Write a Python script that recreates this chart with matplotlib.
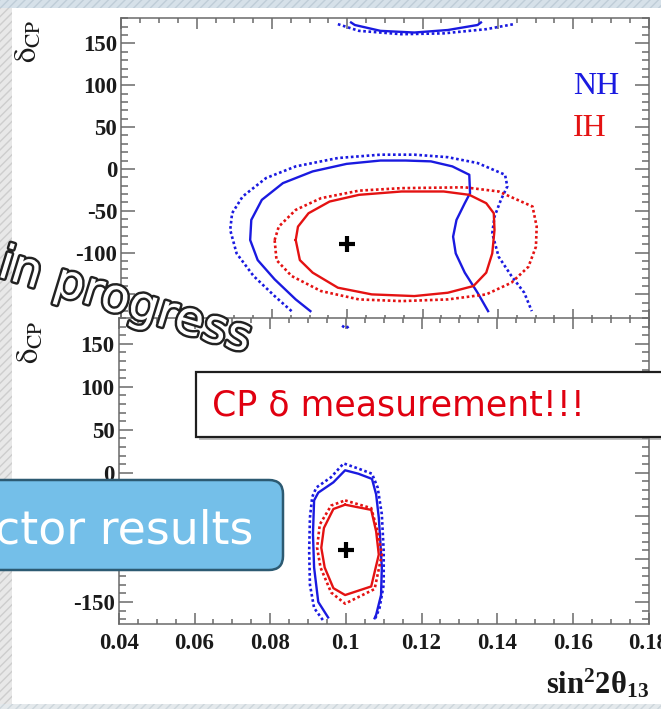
"""
Two stacked delta_CP vs sin^2(2 theta_13) contour panels (NH / IH),
with the slide overlays drawn on top.
"""

import matplotlib
matplotlib.use("Agg")
import matplotlib.pyplot as plt
import matplotlib.patheffects as pe
from matplotlib.patches import Rectangle, FancyBboxPatch
from matplotlib.ticker import MultipleLocator, FuncFormatter

# ── Config ────────────────────────────────────────────────────
W, H      = 661, 709
BLUE      = "#1a1ae0"
RED       = "#e41212"
FRAME     = "#6a6a6a"
TICK_SIZE = 16.5

plt.rcParams["axes.unicode_minus"] = False
plt.rcParams["mathtext.fontset"]   = "custom"
plt.rcParams["mathtext.rm"]        = "Liberation Serif:bold"
plt.rcParams["mathtext.it"]        = "Liberation Serif:bold"
plt.rcParams["mathtext.bf"]        = "Liberation Serif:bold"

# ── Data : top panel ──────────────────────────────────────────
top_nh_solid_x = [0.0902, 0.0863, 0.0807, 0.0762, 0.0742, 0.0745, 0.0773, 0.0829,
                  0.0908, 0.0998, 0.1088, 0.1155, 0.1222, 0.1279, 0.1324, 0.1326,
                  0.1312, 0.1290, 0.1281, 0.1288, 0.1312, 0.1346, 0.1374]
top_nh_solid_y = [-170, -156, -132, -109, -85, -61, -37, -17,
                  -3, 6, 10, 10, 9, 3, -7, -29,
                  -41, -61, -81, -101, -124, -148, -170]

top_nh_dot_x = [0.0852, 0.0807, 0.0751, 0.0706, 0.0689, 0.0694, 0.0722, 0.0784,
                0.0863, 0.0975, 0.1088, 0.1178, 0.1267, 0.1346, 0.1419, 0.1425,
                0.1408, 0.1391, 0.1385, 0.1402, 0.1436, 0.1470, 0.1490]
top_nh_dot_y = [-170, -152, -128, -101, -73, -53, -33, -11,
                3, 13, 17, 17, 14, 7, -7, -21,
                -37, -57, -77, -105, -128, -148, -170]

top_nh_arc_solid_x = [0.1010, 0.1020, 0.1088, 0.1178, 0.1267, 0.1346, 0.1355]
top_nh_arc_solid_y = [175, 172, 165, 163, 166, 172, 175]
top_nh_arc_dot_x   = [0.0975, 0.1031, 0.1144, 0.1256, 0.1369, 0.1442]
top_nh_arc_dot_y   = [173, 165, 161, 162, 167, 173]

top_ih_solid_x = [0.0863, 0.0869, 0.0897, 0.0953, 0.1031, 0.1144, 0.1256, 0.1324,
                  0.1369, 0.1389, 0.1391, 0.1385, 0.1369, 0.1335, 0.1267, 0.1178,
                  0.1065, 0.0975, 0.0908, 0.0874, 0.0863]
top_ih_solid_y = [-85, -69, -53, -39, -31, -27, -27, -31,
                  -41, -53, -73, -101, -124, -140, -148, -152,
                  -150, -142, -124, -109, -85]

top_ih_dot_x = [0.0807, 0.0818, 0.0863, 0.0930, 0.1031, 0.1144, 0.1312, 0.1402,
                0.1492, 0.1503, 0.1501, 0.1481, 0.1436, 0.1369, 0.1267, 0.1144,
                0.1031, 0.0930, 0.0852, 0.0812, 0.0807]
top_ih_dot_y = [-85, -69, -49, -35, -26, -23, -22, -27,
                -45, -69, -93, -117, -136, -150, -156, -158,
                -156, -146, -128, -109, -85]

# ── Data : bottom panel ───────────────────────────────────────
bot_nh_solid_x = [0.0953, 0.0927, 0.0916, 0.0913, 0.0916, 0.0927, 0.0967, 0.0998,
                  0.1033, 0.1069, 0.1080, 0.1087, 0.1091, 0.1095, 0.1093, 0.1080, 0.1076]
bot_nh_solid_y = [-168, -150, -110, -71, -32, -23, -11, 3,
                  -1, -7, -25, -52, -79, -110, -142, -165, -169]

bot_nh_dot_x = [0.0939, 0.0916, 0.0905, 0.0903, 0.0905, 0.0911, 0.0922, 0.0961,
                0.0994, 0.1033, 0.1069, 0.1084, 0.1095, 0.1100, 0.1100, 0.1089, 0.1078]
bot_nh_dot_y = [-171, -157, -130, -91, -52, -28, -17, -5,
                11, 5, -1, -17, -48, -91, -130, -157, -169]

bot_nh_arc_dot_x = [0.0990, 0.1000, 0.1010]
bot_nh_arc_dot_y = [171, 168, 171]

bot_ih_solid_x = [0.0998, 0.1067, 0.1080, 0.1087, 0.1067, 0.0998, 0.0967, 0.0944,
                  0.0935, 0.0942, 0.0967, 0.0998]
bot_ih_solid_y = [-37, -43, -68, -95, -132, -142, -134, -110,
                  -87, -64, -42, -37]

bot_ih_dot_x = [0.0998, 0.1067, 0.1084, 0.1095, 0.1076, 0.0998, 0.0961, 0.0933,
                0.0924, 0.0931, 0.0961, 0.0998]
bot_ih_dot_y = [-32, -41, -68, -95, -135, -152, -139, -110,
                -87, -60, -38, -32]

best_x = [0.1]
best_y = [-90]

TOP_YLABELS = ["150", "100", "50", "0", "-50", "-100"]


# ── Helpers ───────────────────────────────────────────────────

def box(x0, y0, x1, y1):
    """pixel box (top-left origin) -> figure fraction [l, b, w, h]"""
    return [x0 / W, 1 - y1 / H, (x1 - x0) / W, (y1 - y0) / H]


def xfmt(v, _):
    return f"{round(v, 3):g}"


def style_panel(ax, ylim, show_x, ylabels=None):
    ax.set_xlim(0.04, 0.18)
    ax.set_ylim(*ylim)
    ax.xaxis.set_major_locator(MultipleLocator(0.02))
    ax.xaxis.set_minor_locator(MultipleLocator(0.005))
    ax.yaxis.set_major_locator(MultipleLocator(50))
    ax.yaxis.set_minor_locator(MultipleLocator(10))
    ax.tick_params(which="both", direction="in", top=True, right=True,
                   color=FRAME, width=1.1, pad=3, labelcolor="#1a1a1a")
    ax.tick_params(axis="x", which="major", length=8, pad=6)
    ax.tick_params(axis="x", which="minor", length=3.6)
    ax.tick_params(axis="y", which="major", length=10)
    ax.tick_params(axis="y", which="minor", length=5)
    for s in ax.spines.values():
        s.set_edgecolor(FRAME)
        s.set_linewidth(1.1)

    if show_x:
        ax.xaxis.set_major_formatter(FuncFormatter(xfmt))
    else:
        ax.set_xticklabels([])

    def yfmt(v, _):
        lab = f"{int(round(v))}"
        if ylabels is not None and lab not in ylabels:
            return ""
        return lab
    ax.yaxis.set_major_formatter(FuncFormatter(yfmt))

    for lab in ax.get_xticklabels() + ax.get_yticklabels():
        lab.set_fontfamily("Liberation Serif")
        lab.set_fontweight("bold")
        lab.set_fontsize(TICK_SIZE)


def draw_curve(ax, x, y, color, dotted):
    ls = (0, (1, 1)) if dotted else "-"
    ax.plot(x, y, color=color, lw=1.9 if dotted else 1.7,
            linestyle=ls, solid_joinstyle="round")


# ── Figure ────────────────────────────────────────────────────
fig = plt.figure(figsize=(W / 100, H / 100), dpi=100)
fig.patch.set_facecolor("white")

# top panel
ax1 = fig.add_axes(box(121.4, 18.3, 648.5, 319.5), zorder=1)
ax1.set_facecolor("white")
draw_curve(ax1, top_nh_dot_x, top_nh_dot_y, BLUE, True)
draw_curve(ax1, top_nh_solid_x, top_nh_solid_y, BLUE, False)
draw_curve(ax1, top_nh_arc_dot_x, top_nh_arc_dot_y, BLUE, True)
draw_curve(ax1, top_nh_arc_solid_x, top_nh_arc_solid_y, BLUE, False)
draw_curve(ax1, top_ih_dot_x, top_ih_dot_y, RED, True)
draw_curve(ax1, top_ih_solid_x, top_ih_solid_y, RED, False)
ax1.plot(best_x, best_y, marker="+", color="black", ms=11, mew=3, ls="none")
ax1.text(0.857, 0.772, "NH", transform=ax1.transAxes, color=BLUE,
         family="Liberation Serif", fontsize=23, va="center")
ax1.text(0.857, 0.633, "IH", transform=ax1.transAxes, color=RED,
         family="Liberation Serif", fontsize=23, va="center")
style_panel(ax1, (-180, 180), show_x=False, ylabels=TOP_YLABELS)

# bottom panel
ax2 = fig.add_axes(box(118.9, 318.0, 648.5, 624.3), zorder=2)
ax2.set_facecolor("white")
draw_curve(ax2, bot_nh_dot_x, bot_nh_dot_y, BLUE, True)
draw_curve(ax2, bot_nh_solid_x, bot_nh_solid_y, BLUE, False)
draw_curve(ax2, bot_nh_arc_dot_x, bot_nh_arc_dot_y, BLUE, True)
draw_curve(ax2, bot_ih_dot_x, bot_ih_dot_y, RED, True)
draw_curve(ax2, bot_ih_solid_x, bot_ih_solid_y, RED, False)
ax2.plot(best_x, best_y, marker="+", color="black", ms=11, mew=3, ls="none")
ax2.text(0.857, 0.775, "NH", transform=ax2.transAxes, color=BLUE,
         family="Liberation Serif", fontsize=23, va="center")
ax2.text(0.857, 0.638, "IH", transform=ax2.transAxes, color=RED,
         family="Liberation Serif", fontsize=23, va="center")
style_panel(ax2, (-176, 180), show_x=True)

# ── Overlay (pixel coordinates) ───────────────────────────────
ov = fig.add_axes([0, 0, 1, 1], zorder=10)
ov.set_xlim(0, W)
ov.set_ylim(H, 0)
ov.axis("off")
ov.patch.set_alpha(0)

# slide background strips
ov.add_patch(Rectangle((0, 0), 12, H, facecolor="#e8e8e8", hatch="////",
                       edgecolor="#cdcdcd", lw=0))
ov.add_patch(Rectangle((0, 0), W, 8, facecolor="#d6e1e9", hatch="////",
                       edgecolor="#bfcdd8", lw=0))
ov.add_patch(Rectangle((0, 704), W, 5, facecolor="#e4e9ec", hatch="////",
                       edgecolor="#cdd6dc", lw=0))

# axis titles
ov.text(28, 41, r"$\mathrm{\delta}_{\mathrm{CP}}$", rotation=90, ha="center",
        va="center", fontsize=22, math_fontfamily="stix", color="#1a1a1a")
ov.text(30, 342, r"$\mathrm{\delta}_{\mathrm{CP}}$", rotation=90, ha="center",
        va="center", fontsize=22, math_fontfamily="stix", color="#1a1a1a")
ov.text(649, 693, r"$\mathrm{sin^{2}2\theta_{13}}$", ha="right", va="baseline",
        fontsize=22, color="#1a1a1a")

# "in progress" word art
ov.text(-4, 276, "in progress", rotation=-17, rotation_mode="anchor",
        ha="left", va="baseline", fontsize=34, color="white",
        path_effects=[pe.withStroke(linewidth=3.5, foreground="#222222")])

# CP delta call-out
ov.add_patch(Rectangle((199, 375), 480, 65, facecolor="#8c8c8c", alpha=0.55, lw=0))
ov.add_patch(Rectangle((196, 372), 480, 65, facecolor="white",
                       edgecolor="#1e1e1e", lw=1.6))
ov.text(212, 405, "CP δ measurement!!!", ha="left", va="center",
        fontsize=25, color="#e00010")

# reactor results button
ov.add_patch(FancyBboxPatch((-30, 480), 313, 90,
                            boxstyle="round,pad=0,rounding_size=14",
                            facecolor="#74bfe9", edgecolor="#2c5a72", lw=1.8))
ov.text(253, 543, "ctor results", ha="right", va="baseline",
        fontsize=33, color="white")

fig.savefig("out.png", dpi=100)
plt.close(fig)
